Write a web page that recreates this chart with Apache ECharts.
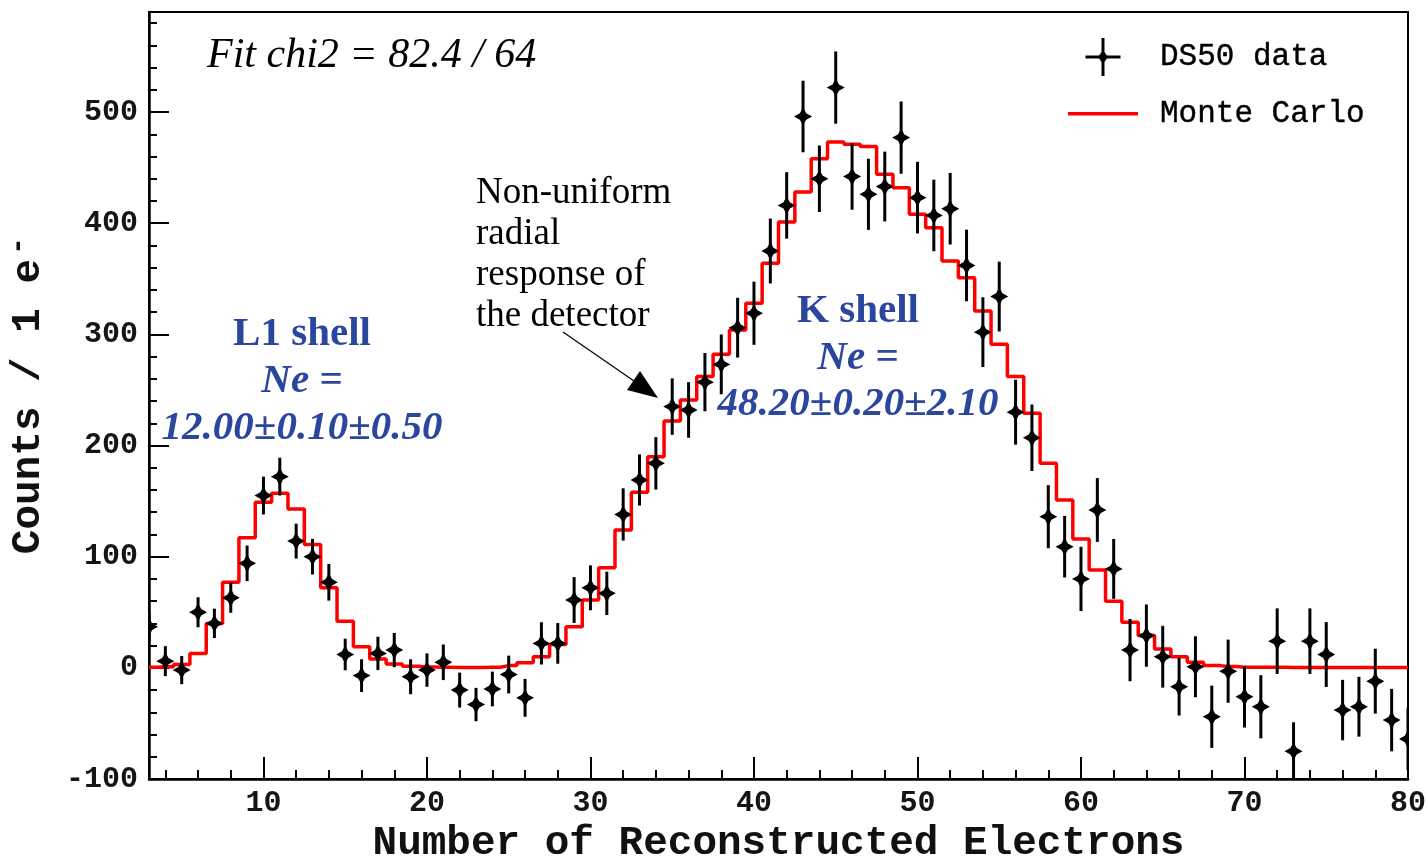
<!DOCTYPE html>
<html>
<head>
<meta charset="utf-8">
<title>DS50 electron spectrum</title>
<script src="https://cdn.jsdelivr.net/npm/echarts@6/dist/echarts.min.js"></script>
<style>
  html, body { margin: 0; padding: 0; background: #fff; }
  #chart { width: 1428px; height: 856px; }
</style>
</head>
<body>
<div id="chart"></div>
<script>
// Bin centres (number of reconstructed electrons, 1 e- per bin)
const electrons = [3,4,5,6,7,8,9,10,11,12,13,14,15,16,17,18,19,20,21,22,23,24,25,26,27,28,29,30,
  31,32,33,34,35,36,37,38,39,40,41,42,43,44,45,46,47,48,49,50,51,52,53,54,55,56,57,58,59,60,
  61,62,63,64,65,66,67,68,69,70,71,72,73,74,75,76,77,78,79,80];

// DS50 data: background-subtracted counts per bin
const dataCounts = [37,6,-2,50,40,63,94,155,172,114,100,77,12,-7,13,16,-8,-2,5,-20,-33,-19,-6,-27,22,22,61,72,
  67,138,169,184,235,232,257,273,306,319,375,416,496,440,522,442,426,433,477,423,407,413,362,302,334,230,207,136,109,80,
  142,89,16,29,10,-17,1,-44,-3,-26,-35,24,-75,24,12,-38,-35,-12,-47,-64];

// Statistical uncertainty on each data bin
const dataErrors = [13,13.5,12.7,13.5,13.2,13.5,16,17,17,15.7,16,16.5,14.2,14.7,15,15.4,15.7,15,16,15.7,15,15.6,17,17,19,18.3,20.6,20.2,
  19.5,23.5,23,23.6,25.4,25,26.2,26.9,26.9,28.4,29.2,29.9,32.2,29.9,32.5,29.9,32,31.4,32.5,32.2,32.2,32.2,32.2,31.4,31.4,29.2,29.9,28.4,27.7,28.9,
  28.7,26.9,28,28,27.8,25.9,27.4,28,28.4,27.7,28.4,29.5,26,29.5,29.2,27.2,26.9,29.2,28.1,28];

// Monte Carlo prediction per bin
const monteCarlo = [0.5,1,3,13,40,77,117,149,157,143,111,72,42,19,8,3.5,1.5,0.8,0.5,0.3,0.3,0.5,2,4.5,10,21,37,61,
  90,124,158,190,222,241,262,282,304,328,364,401,428,458,473,471,469,444,432,408,396,366,351,321,291,262,229,184,151,116,
  88,60,41,29,17,10,5,2,1.2,0.5,0.5,0.5,0.4,0.4,0.4,0.3,0.3,0.3,0.3,0.3];

// Axis tick labels
const xTickValues = [10,20,30,40,50,60,70,80];
const yTickValues = [-100,0,100,200,300,400,500];

const X_MIN = 3, X_MAX = 80, Y_MIN = -100, Y_MAX = 590;

const xMinor = [];
for (let v = 4; v < X_MAX; v += 2) if (v % 10 !== 0) xMinor.push(v);
const yMinor = [];
for (let v = -80; v < Y_MAX; v += 20) if (v % 100 !== 0) yMinor.push(v);

const dataPoints = electrons.map((n, i) => [n, dataCounts[i], dataErrors[i]]);
const mcPoints = electrons.map((n, i) => [n, monteCarlo[i]]);

const MONO = '"Liberation Mono", "DejaVu Sans Mono", monospace';
const SERIF = '"Liberation Serif", "DejaVu Serif", serif';
const BLUE = '#2b469e';

// Four-pointed star marker drawn at the data point
function starPoints(cx, cy) {
  const r = 9, w = 3.2;
  return [[cx, cy - r], [cx + w, cy - w], [cx + r, cy], [cx + w, cy + w],
          [cx, cy + r], [cx - w, cy + w], [cx - r, cy], [cx - w, cy - w]];
}

function renderDataPoint(params, api) {
  const x = api.value(0), y = api.value(1), e = api.value(2);
  const c = api.coord([x, y]);
  const hi = api.coord([x, y + e]);
  const lo = api.coord([x, y - e]);
  return {
    type: 'group',
    children: [
      { type: 'line', shape: { x1: c[0], y1: hi[1], x2: c[0], y2: lo[1] },
        style: { stroke: '#000', lineWidth: 3 } },
      { type: 'polygon', shape: { points: starPoints(c[0], c[1]) },
        style: { fill: '#000' } }
    ]
  };
}

const axisText = { fontFamily: MONO, fontWeight: 'bold', fontSize: 30, color: '#151515' };

const chart = echarts.init(document.getElementById('chart'));
chart.setOption({
  animation: false,
  backgroundColor: '#fff',
  grid: {
    left: 149, right: 20, top: 12, bottom: 77,
    outerBoundsMode: 'none',
    containLabel: false,
    show: true, borderColor: '#000', borderWidth: 2, backgroundColor: 'transparent'
  },
  legend: {
    orient: 'vertical',
    left: 1068, top: 38, padding: 0,
    itemWidth: 70, itemHeight: 38, itemGap: 22,
    textStyle: { fontFamily: MONO, fontSize: 31, color: '#000', padding: [0, 0, 0, 17],
                 textBorderColor: '#000', textBorderWidth: 0.4 },
    data: [
      { name: 'DS50 data',
        icon: 'path://M16,0h3v38h-3z M0,17.5h35v3h-35z M17.5,12l5,7l-5,7l-5,-7z' },
      { name: 'Monte Carlo', icon: 'path://M0,0h70v3.5h-70z' }
    ]
  },
  xAxis: [
    {
      type: 'value', min: X_MIN, max: X_MAX,
      name: 'Number of Reconstructed Electrons',
      nameLocation: 'middle', nameGap: 32,
      nameTextStyle: { fontFamily: MONO, fontWeight: 'bold', fontSize: 41, color: '#111' },
      axisLine: { show: true, onZero: false, lineStyle: { color: '#000', width: 2.5 } },
      axisTick: { show: true, inside: true, length: 22, customValues: xTickValues,
                  lineStyle: { color: '#000', width: 2 } },
      axisLabel: { show: true, margin: 9, customValues: xTickValues, ...axisText },
      splitLine: { show: false }
    },
    {
      type: 'value', min: X_MIN, max: X_MAX, position: 'bottom', offset: 0,
      axisLine: { show: false, onZero: false },
      axisTick: { show: true, inside: true, length: 9, customValues: xMinor,
                  lineStyle: { color: '#000', width: 2 } },
      axisLabel: { show: false },
      splitLine: { show: false }
    }
  ],
  yAxis: [
    {
      type: 'value', min: Y_MIN, max: Y_MAX,
      name: 'Counts / 1 e{sup|-}',
      nameLocation: 'middle', nameGap: 89,
      nameTextStyle: {
        fontFamily: MONO, fontWeight: 'bold', fontSize: 41, color: '#111', lineHeight: 52,
        rich: { sup: { fontFamily: MONO, fontWeight: 'bold', fontSize: 30, color: '#111',
                       verticalAlign: 'top', lineHeight: 30, padding: [0, 0, 0, 4] } }
      },
      axisLine: { show: true, onZero: false, lineStyle: { color: '#000', width: 2.5 } },
      axisTick: { show: true, inside: true, length: 20, customValues: yTickValues,
                  lineStyle: { color: '#000', width: 2 } },
      axisLabel: { show: true, margin: 11, customValues: yTickValues, ...axisText },
      splitLine: { show: false }
    },
    {
      type: 'value', min: Y_MIN, max: Y_MAX, position: 'left', offset: 0,
      axisLine: { show: false, onZero: false },
      axisTick: { show: true, inside: true, length: 8, customValues: yMinor,
                  lineStyle: { color: '#000', width: 2 } },
      axisLabel: { show: false },
      splitLine: { show: false }
    }
  ],
  series: [
    {
      name: 'Monte Carlo',
      type: 'line',
      step: 'middle',
      xAxisIndex: 0, yAxisIndex: 0,
      data: mcPoints,
      symbol: 'none',
      lineStyle: { color: '#ff0000', width: 3.5 },
      itemStyle: { color: '#ff0000' },
      clip: true,
      z: 2
    },
    {
      name: 'DS50 data',
      type: 'custom',
      xAxisIndex: 0, yAxisIndex: 0,
      data: dataPoints,
      encode: { x: 0, y: 1 },
      renderItem: renderDataPoint,
      itemStyle: { color: '#000' },
      clip: true,
      z: 3
    }
  ],
  graphic: [
    { type: 'text', z: 10,
      style: { text: 'Fit chi2 = 82.4 / 64', x: 207, y: 56, fill: '#000',
               font: 'italic 42px ' + SERIF, textAlign: 'left', textVerticalAlign: 'middle' } },
    { type: 'text', z: 10,
      style: { text: 'Non-uniform\nradial\nresponse of\nthe detector', x: 476, y: 173,
               fill: '#000', font: '37px ' + SERIF, lineHeight: 41,
               textAlign: 'left', textVerticalAlign: 'top' } },
    { type: 'line', z: 10,
      shape: { x1: 563, y1: 332, x2: 634, y2: 381 },
      style: { stroke: '#000', lineWidth: 1.2 } },
    { type: 'polygon', z: 10,
      shape: { points: [[658, 398], [627, 390], [640, 371]] },
      style: { fill: '#000' } },
    { type: 'text', z: 10,
      style: { text: 'L1 shell', x: 302, y: 334, fill: BLUE,
               font: 'bold 41px ' + SERIF, textAlign: 'center', textVerticalAlign: 'middle' } },
    { type: 'text', z: 10,
      style: { text: 'Ne =', x: 302, y: 381, fill: BLUE,
               font: 'italic bold 41px ' + SERIF, textAlign: 'center', textVerticalAlign: 'middle' } },
    { type: 'text', z: 10,
      style: { text: '12.00\u00b10.10\u00b10.50', x: 302, y: 428, fill: BLUE,
               font: 'italic bold 41px ' + SERIF, textAlign: 'center', textVerticalAlign: 'middle' } },
    { type: 'text', z: 10,
      style: { text: 'K shell', x: 858, y: 311, fill: BLUE,
               font: 'bold 41px ' + SERIF, textAlign: 'center', textVerticalAlign: 'middle' } },
    { type: 'text', z: 10,
      style: { text: 'Ne =', x: 858, y: 358, fill: BLUE,
               font: 'italic bold 41px ' + SERIF, textAlign: 'center', textVerticalAlign: 'middle' } },
    { type: 'text', z: 10,
      style: { text: '48.20\u00b10.20\u00b12.10', x: 858, y: 404, fill: BLUE,
               font: 'italic bold 41px ' + SERIF, textAlign: 'center', textVerticalAlign: 'middle' } }
  ]
});
</script>
</body>
</html>
